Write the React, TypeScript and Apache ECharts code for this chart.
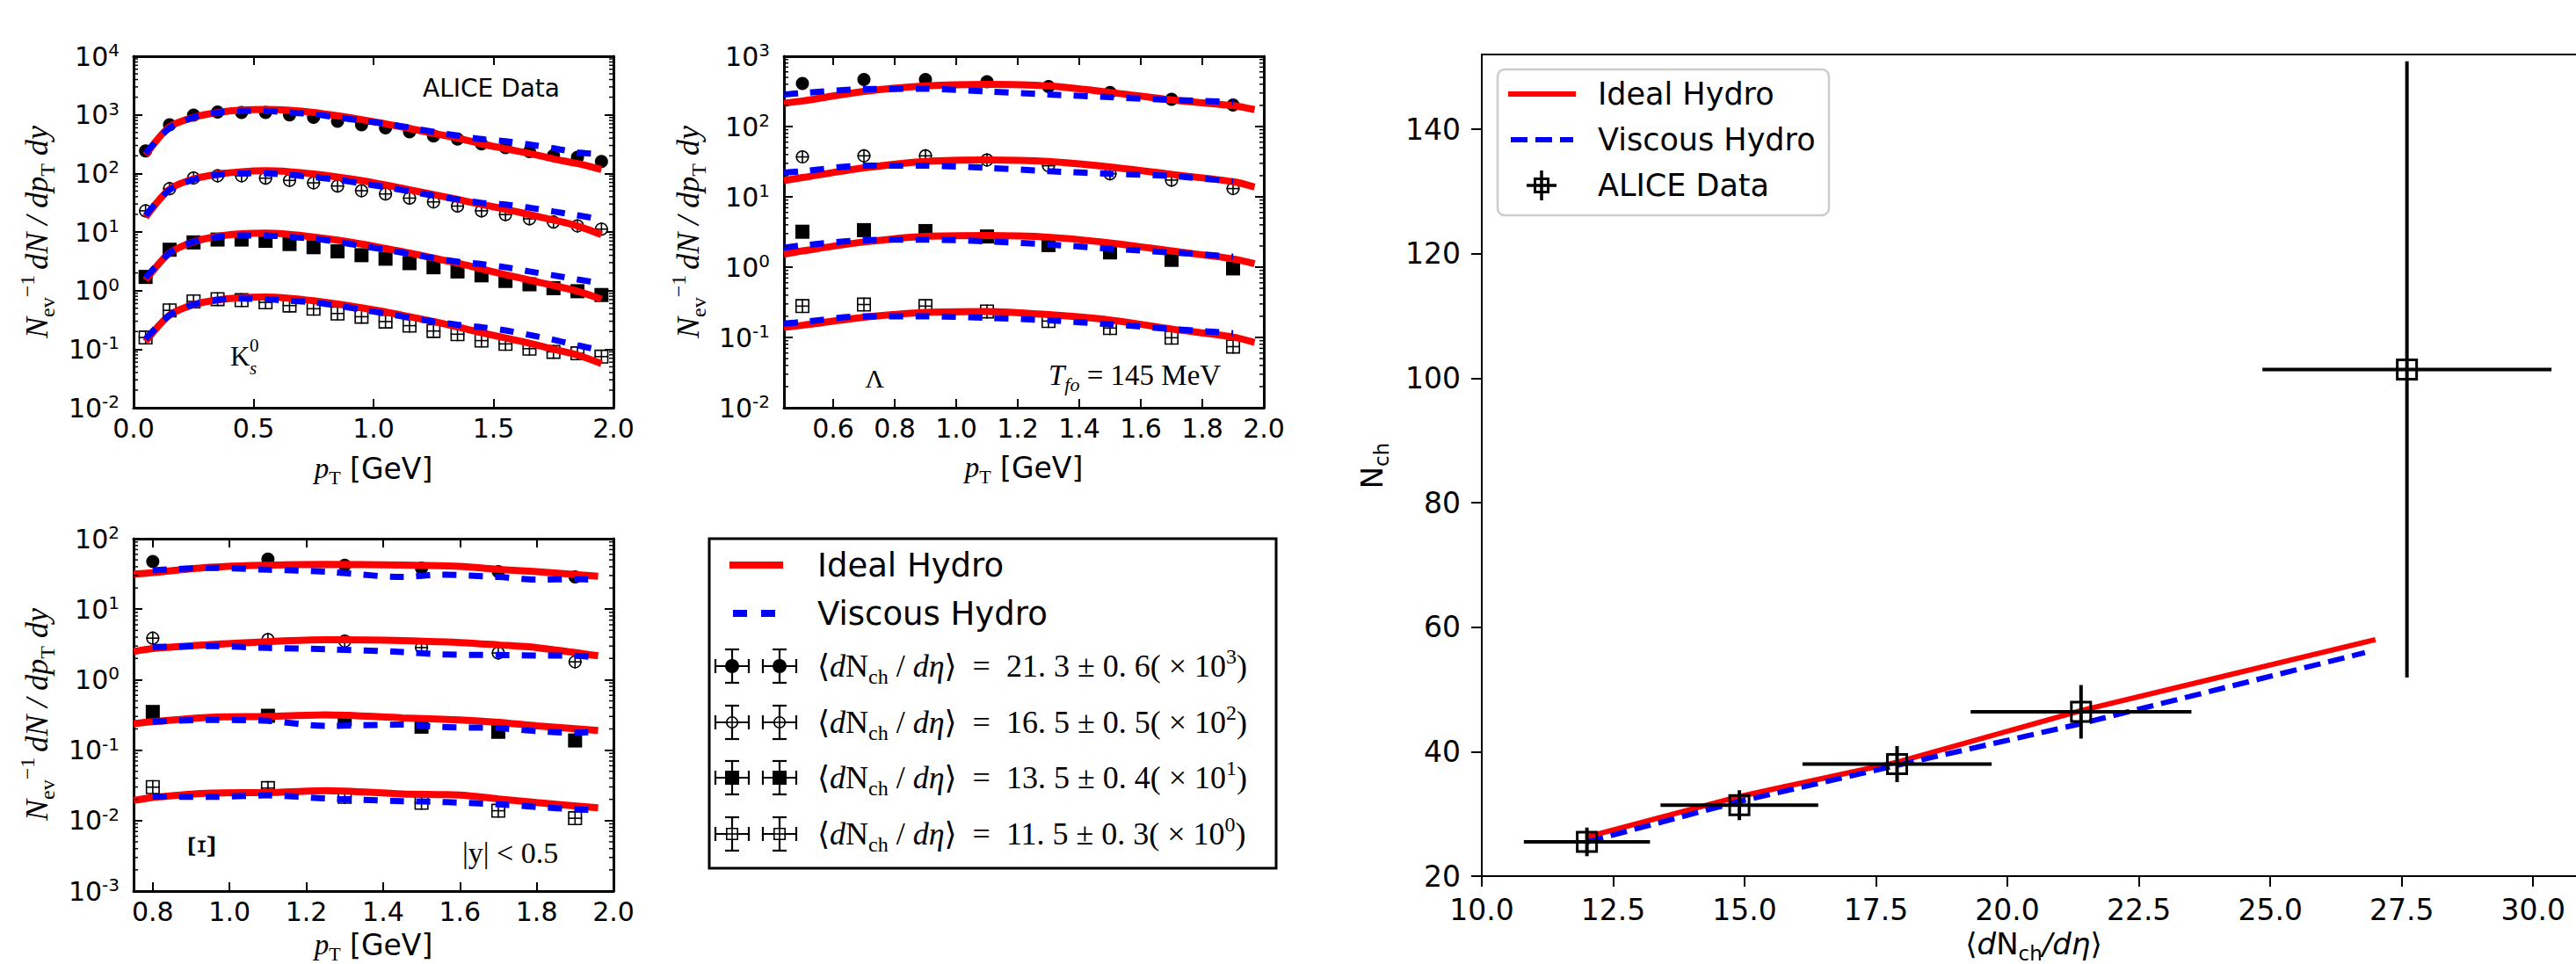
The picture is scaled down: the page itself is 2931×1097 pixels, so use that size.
import { useEffect, useRef } from 'react';
import * as echarts from 'echarts';

const W = 2931;
const H = 1097;
const SERIF = '"Liberation Serif", "DejaVu Serif", serif';
const SANS = '"DejaVu Sans", "Liberation Sans", sans-serif';
const RED = '#ff0000';
const BLUE = '#0000ff';

// ---------------- K0s panel (top left) ----------------
const kX = [0.05, 0.15, 0.25, 0.35, 0.45, 0.55, 0.65, 0.75, 0.85, 0.95, 1.05, 1.15, 1.25, 1.35, 1.45, 1.55, 1.65, 1.75, 1.85, 1.95];
const kD1 = [242, 677, 986, 1117, 1096, 1096, 1000, 904, 777, 677, 597, 514, 437, 385, 319, 275, 236, 201, 189, 160];
const kD2 = [23, 55, 83.5, 91, 91, 83, 76, 69, 61, 50.6, 44.6, 37.9, 32.6, 27.7, 23, 19.8, 16.8, 14.8, 12.7, 11.2];
const kD3 = [1.71, 4.98, 6.64, 7.43, 7.43, 7.07, 6.23, 5.5, 4.67, 4.02, 3.5, 2.94, 2.5, 2.12, 1.82, 1.46, 1.28, 1.1, 0.975, 0.84];
const kD4 = [0.158, 0.46, 0.653, 0.713, 0.687, 0.629, 0.555, 0.49, 0.406, 0.358, 0.296, 0.252, 0.204, 0.18, 0.14, 0.123, 0.102, 0.09, 0.085, 0.0747];
const kI1 = [206, 621, 904, 1096, 1203, 1233, 1191, 1096, 962, 827, 703, 583, 483, 400, 319, 264, 219, 177, 147, 117];
const kI2 = [17.9, 53.8, 80.4, 97, 107, 111, 107, 98, 86.7, 75.5, 63.4, 52.5, 43.5, 36, 29.5, 24.5, 19.8, 16, 12.7, 9.0];
const kI3 = [1.51, 4.39, 6.8, 8.42, 9.3, 9.55, 9.08, 8.22, 7.25, 6.23, 5.23, 4.39, 3.59, 2.94, 2.34, 1.87, 1.51, 1.22, 0.975, 0.713];
const kI4 = [0.135, 0.381, 0.576, 0.695, 0.759, 0.778, 0.74, 0.67, 0.59, 0.508, 0.432, 0.358, 0.296, 0.24, 0.191, 0.155, 0.126, 0.1, 0.0795, 0.0567];
const kV1 = [219, 597, 904, 1096, 1161, 1161, 1096, 1024, 904, 797, 703, 605, 514, 442, 385, 353, 311, 268, 228, 214];
const kV2 = [19.3, 52.5, 78, 94.6, 100, 100, 94.6, 86.7, 78, 67.5, 58.8, 49.3, 41.9, 36, 31.4, 29.5, 26, 22.4, 19.3, 16.4];
const kV3 = [1.65, 4.39, 6.8, 8.22, 8.74, 8.74, 8.22, 7.71, 6.8, 5.78, 4.98, 4.23, 3.59, 3.13, 2.83, 2.5, 2.12, 1.82, 1.55, 1.33];
const kV4 = [0.149, 0.381, 0.576, 0.695, 0.731, 0.713, 0.67, 0.629, 0.555, 0.471, 0.406, 0.344, 0.296, 0.262, 0.237, 0.209, 0.175, 0.145, 0.116, 0.096];

// ---------------- Lambda panel (top middle) ----------------
const lX = [0.5, 0.7, 0.9, 1.1, 1.3, 1.5, 1.7, 1.9];
const lD1 = [410, 466, 466, 433, 370, 306, 244, 202];
const lD2 = [37, 38.3, 38.3, 33.4, 27.7, 21.3, 17.3, 13.1];
const lD3 = [3.19, 3.36, 3.26, 2.73, 2.06, 1.62, 1.27, 0.96];
const lD4 = [0.279, 0.294, 0.279, 0.234, 0.171, 0.136, 0.099, 0.074];
const lIX = [0.44, 0.5, 0.7, 0.9, 1.1, 1.3, 1.5, 1.7, 1.9, 1.97];
const lI1 = [215, 231, 316, 378, 398, 378, 306, 239, 198, 174];
const lI2 = [17, 18.8, 25.8, 31.8, 33.4, 31.8, 26.6, 20.9, 16.4, 13.8];
const lI3 = [1.53, 1.7, 2.28, 2.73, 2.81, 2.67, 2.21, 1.7, 1.31, 1.12];
const lI4 = [0.139, 0.149, 0.194, 0.227, 0.234, 0.211, 0.177, 0.132, 0.101, 0.085];
const lVX = [0.44, 0.5, 0.7, 0.9, 1.1, 1.3, 1.5, 1.7, 1.9];
const lV1 = [285, 300, 340, 344, 316, 285, 262, 239, 224];
const lV2 = [22, 23.2, 27.7, 27.7, 25.8, 23.2, 21.3, 19.8, 16.6];
const lV3 = [1.89, 2.04, 2.41, 2.46, 2.33, 2.1, 1.83, 1.62, 1.41];
const lV4 = [0.157, 0.166, 0.2, 0.2, 0.19, 0.175, 0.154, 0.132, 0.115];

// ---------------- Xi panel (bottom left) ----------------
const xX = [0.8, 1.1, 1.3, 1.5, 1.7, 1.9];
const xD1 = [47.5, 51.4, 42, 38.1, 34, 28.6];
const xD2 = [3.88, 3.7, 3.52, 2.85, 2.39, 1.79];
const xD3 = [0.348, 0.307, 0.273, 0.215, 0.182, 0.137];
const xD4 = [0.0298, 0.0289, 0.0217, 0.0179, 0.0138, 0.0108];
const xIX = [0.75, 0.8, 0.95, 1.1, 1.25, 1.45, 1.6, 1.7, 1.8, 1.96];
const xI1 = [31.4, 33, 39.3, 42, 43.2, 42.4, 40.4, 36.7, 34, 29.4];
const xI2 = [2.51, 2.77, 3.14, 3.46, 3.67, 3.59, 3.36, 3.11, 2.85, 2.18];
const xI3 = [0.237, 0.253, 0.293, 0.3, 0.316, 0.287, 0.268, 0.248, 0.221, 0.19];
const xI4 = [0.0193, 0.0213, 0.0246, 0.025, 0.0266, 0.0239, 0.023, 0.0203, 0.018, 0.0152];
const xVX = [0.8, 0.95, 1.1, 1.25, 1.45, 1.55, 1.7, 1.8, 1.9, 1.96];
const xV1 = [35.6, 38.5, 36.3, 34, 28.6, 30.8, 28.6, 26.3, 26.7, 25.9];
const xV2 = [2.9, 2.99, 2.82, 2.7, 2.47, 2.28, 2.24, 2.2, 2.18, 2.07];
const xV3 = [0.253, 0.268, 0.26, 0.221, 0.23, 0.213, 0.205, 0.186, 0.177, 0.182];
const xV4 = [0.0219, 0.0217, 0.0228, 0.0206, 0.0189, 0.0184, 0.017, 0.0156, 0.0145, 0.014];

// ---------------- N_ch panel (right) ----------------
const aliceX = [12.0, 14.9, 17.9, 21.4, 27.6];
const aliceY = [25.5, 31.4, 38.0, 46.4, 101.4];
const aliceXErr = [1.2, 1.5, 1.8, 2.1, 2.75];
const aliceYErr = [2.3, 2.4, 2.9, 4.3, 49.5];
const idealNX = [12.0, 14.9, 17.9, 21.4, 27.0];
const idealNY = [26.3, 32.8, 38.3, 46.6, 58.0];
const viscNX = [12.0, 14.9, 17.9, 21.4, 26.8];
const viscNY = [25.5, 32.0, 37.8, 44.5, 55.9];

// legend texts
const legendVals = ['21. 3 ± 0. 6', '16. 5 ± 0. 5', '13. 5 ± 0. 4', '11. 5 ± 0. 3'];
const legendExps = ['3', '2', '1', '0'];
const markerTypes = ['fcircle', 'ocircle', 'fsquare', 'osquare'];

const panels = [
  {
    grid: { left: 152, top: 64, width: 546, height: 400 },
    xMin: 0, xMax: 2, xOpt: { interval: 0.5 }, showMinX: true,
    yMin: 1e-2, yMax: 1e4, decLo: -2, decHi: 4,
    dX: kX, d: [kD1, kD2, kD3, kD4],
    iX: kX, ideal: [kI1, kI2, kI3, kI4],
    vX: kX, visc: [kV1, kV2, kV3, kV4],
  },
  {
    grid: { left: 892, top: 64, width: 546, height: 400 },
    xMin: 0.44, xMax: 2, xOpt: { splitNumber: 8 }, showMinX: false,
    yMin: 1e-2, yMax: 1e3, decLo: -2, decHi: 3,
    dX: lX, d: [lD1, lD2, lD3, lD4],
    iX: lIX, ideal: [lI1, lI2, lI3, lI4],
    vX: lVX, visc: [lV1, lV2, lV3, lV4],
  },
  {
    grid: { left: 152, top: 613, width: 546, height: 401 },
    xMin: 0.75, xMax: 2, xOpt: { splitNumber: 6 }, showMinX: false,
    yMin: 1e-3, yMax: 1e2, decLo: -3, decHi: 2,
    dX: xX, d: [xD1, xD2, xD3, xD4],
    iX: xIX, ideal: [xI1, xI2, xI3, xI4],
    vX: xVX, visc: [xV1, xV2, xV3, xV4],
  },
];

function markerParts(type: string, cx: number, cy: number, r: number): any[] {
  const lw = 1.6;
  const cross = [
    { type: 'line', shape: { x1: cx - r, y1: cy, x2: cx + r, y2: cy }, style: { stroke: '#000', lineWidth: lw } },
    { type: 'line', shape: { x1: cx, y1: cy - r, x2: cx, y2: cy + r }, style: { stroke: '#000', lineWidth: lw } },
  ];
  if (type === 'fcircle') return [{ type: 'circle', shape: { cx, cy, r }, style: { fill: '#000' } }];
  if (type === 'ocircle')
    return [{ type: 'circle', shape: { cx, cy, r: r - 0.8 }, style: { fill: '#fff', stroke: '#000', lineWidth: lw } }, ...cross];
  if (type === 'fsquare') return [{ type: 'rect', shape: { x: cx - r, y: cy - r, width: 2 * r, height: 2 * r }, style: { fill: '#000' } }];
  return [{ type: 'rect', shape: { x: cx - r + 0.8, y: cy - r + 0.8, width: 2 * r - 1.6, height: 2 * r - 1.6 }, style: { fill: '#fff', stroke: '#000', lineWidth: lw } }, ...cross];
}

function legendErrParts(type: string, cx: number, cy: number): any[] {
  const e = 19, cap = 8, lw = 2.2;
  const s = { stroke: '#000', lineWidth: lw };
  return [
    { type: 'line', shape: { x1: cx - e, y1: cy, x2: cx + e, y2: cy }, style: s },
    { type: 'line', shape: { x1: cx, y1: cy - e, x2: cx, y2: cy + e }, style: s },
    { type: 'line', shape: { x1: cx - e, y1: cy - cap, x2: cx - e, y2: cy + cap }, style: s },
    { type: 'line', shape: { x1: cx + e, y1: cy - cap, x2: cx + e, y2: cy + cap }, style: s },
    { type: 'line', shape: { x1: cx - cap, y1: cy - e, x2: cx + cap, y2: cy - e }, style: s },
    { type: 'line', shape: { x1: cx - cap, y1: cy + e, x2: cx + cap, y2: cy + e }, style: s },
    ...markerParts(type, cx, cy, type === 'ocircle' || type === 'osquare' ? 7 : 8),
  ];
}

const logRich = {
  b: { fontSize: 30, fontFamily: SANS, color: '#000', lineHeight: 34 },
  s: { fontSize: 20, fontFamily: SANS, color: '#000', lineHeight: 20, verticalAlign: 'top' },
};
function logLabel(v: number) {
  const e = Math.round(Math.log10(v));
  return `{b|10}{s|${e}}`;
}

function mathRich(size: number, family = SERIF) {
  const s2 = Math.round(size * 0.68);
  return {
    i: { fontFamily: family, fontStyle: 'italic', fontSize: size, lineHeight: Math.round(size * 1.3) },
    r: { fontFamily: family, fontSize: size, lineHeight: Math.round(size * 1.3) },
    g: { fontFamily: SANS, fontSize: size, lineHeight: Math.round(size * 1.3) },
    sub: { fontFamily: family, fontSize: s2, lineHeight: s2, verticalAlign: 'bottom' },
    subi: { fontFamily: family, fontStyle: 'italic', fontSize: s2, lineHeight: s2, verticalAlign: 'bottom' },
    sup: { fontFamily: family, fontSize: s2, lineHeight: s2, verticalAlign: 'top' },
  };
}

function T(x: number, y: number, text: string, style: any, extra: any = {}): any {
  return { type: 'text', x, y, z: 100, style: { text, fill: '#000', align: 'left', verticalAlign: 'middle', ...style }, ...extra };
}

function curve(xs: number[], ys: number[], ax: number, color: string, dash: any, width: number, z: number, smooth: any = 0.3): any {
  return {
    type: 'line', xAxisIndex: ax, yAxisIndex: ax, data: xs.map((x, i) => [x, ys[i]]),
    showSymbol: false, symbol: 'none', smooth, z, silent: true, clip: true,
    lineStyle: { color, width, type: dash, cap: 'butt' },
  };
}

function buildOption(): any {
  const grids: any[] = [];
  const xAxes: any[] = [];
  const yAxes: any[] = [];
  const series: any[] = [];
  const frameLine = { show: true, onZero: false, lineStyle: { color: '#000', width: 3 } };
  const inTick = { show: true, inside: true, length: 10, lineStyle: { color: '#000', width: 2 } };

  panels.forEach((p, i) => {
    grids.push({ ...p.grid, show: false, containLabel: false, outerBoundsMode: 'none' });
    const ax = 2 * i;
    const xBase = { type: 'value', gridIndex: i, min: p.xMin, max: p.xMax, ...p.xOpt, splitLine: { show: false }, axisLine: frameLine, axisTick: inTick };
    xAxes.push({
      ...xBase, position: 'bottom',
      axisLabel: { show: true, margin: 8, fontSize: 30, fontFamily: SANS, color: '#000', formatter: (v: number) => v.toFixed(1), showMinLabel: p.showMinX, showMaxLabel: true },
    });
    xAxes.push({ ...xBase, position: 'top', axisLabel: { show: false } });
    const yBase = { type: 'log', logBase: 10, gridIndex: i, min: p.yMin, max: p.yMax, splitNumber: 10, splitLine: { show: false }, axisLine: frameLine, axisTick: inTick };
    yAxes.push({ ...yBase, position: 'left', axisLabel: { show: true, margin: 16, formatter: logLabel, rich: logRich, showMinLabel: true, showMaxLabel: true } });
    yAxes.push({ ...yBase, position: 'right', axisLabel: { show: false } });

    p.d.forEach((ys, k) => {
      series.push({
        type: 'custom', xAxisIndex: ax, yAxisIndex: ax, z: 2, silent: true,
        data: p.dX.map((x, j) => [x, ys[j]]),
        renderItem: (_params: any, api: any) => {
          const c = api.coord([api.value(0), api.value(1)]);
          return { type: 'group', children: markerParts(markerTypes[k], c[0], c[1], markerTypes[k].endsWith('square') ? 8 : 7.5) };
        },
      });
    });
    p.ideal.forEach((ys) => series.push(curve(p.iX, ys, ax, RED, 'solid', 8, 3)));
    p.visc.forEach((ys) => series.push(curve(p.vX, ys, ax, BLUE, [16, 14], 7, 4)));

    const minor: number[][] = [];
    for (let d = p.decLo; d < p.decHi; d++) for (let m = 2; m <= 9; m++) minor.push([p.xMin, m * Math.pow(10, d)]);
    series.push({
      type: 'custom', xAxisIndex: ax, yAxisIndex: ax, z: 5, silent: true, data: minor,
      renderItem: (params: any, api: any) => {
        const cs = params.coordSys;
        const y = api.coord([api.value(0), api.value(1)])[1];
        const st = { stroke: '#000', lineWidth: 1.5 };
        return {
          type: 'group',
          children: [
            { type: 'line', shape: { x1: cs.x, y1: y, x2: cs.x + 5, y2: y }, style: st },
            { type: 'line', shape: { x1: cs.x + cs.width - 5, y1: y, x2: cs.x + cs.width, y2: y }, style: st },
          ],
        };
      },
    });
  });

  // right panel
  grids.push({ left: 1686, top: 62, width: 1256, height: 935, show: true, borderColor: '#000', borderWidth: 2, backgroundColor: 'transparent', containLabel: false, outerBoundsMode: 'none' });
  const rLine = { show: true, onZero: false, lineStyle: { color: '#000', width: 2 } };
  const rTick = { show: true, inside: false, length: 12, lineStyle: { color: '#000', width: 2 } };
  xAxes.push({
    type: 'value', gridIndex: 3, min: 10, max: 31, interval: 2.5, position: 'bottom', splitLine: { show: false }, axisLine: rLine, axisTick: rTick,
    axisLabel: { margin: 22, fontSize: 33, fontFamily: SANS, color: '#000', formatter: (v: number) => v.toFixed(1), showMinLabel: true, showMaxLabel: false },
  });
  yAxes.push({
    type: 'value', gridIndex: 3, min: 20, max: 152, interval: 20, position: 'left', splitLine: { show: false }, axisLine: rLine, axisTick: rTick,
    axisLabel: { margin: 24, fontSize: 33, fontFamily: SANS, color: '#000', formatter: (v: number) => String(Math.round(v)), showMinLabel: true, showMaxLabel: false },
  });
  series.push(curve(idealNX, idealNY, 6, RED, 'solid', 6, 3, false));
  series.push(curve(viscNX, viscNY, 6, BLUE, [19, 9], 6, 4, false));
  series.push({
    type: 'custom', xAxisIndex: 6, yAxisIndex: 6, z: 5, silent: true,
    data: aliceX.map((x, i) => [x, aliceY[i], aliceXErr[i], aliceYErr[i]]),
    encode: { x: 0, y: 1 },
    renderItem: (_params: any, api: any) => {
      const x = api.value(0), y = api.value(1), ex = api.value(2), ey = api.value(3);
      const c = api.coord([x, y]);
      const l = api.coord([x - ex, y]);
      const r = api.coord([x + ex, y]);
      const t = api.coord([x, y + ey]);
      const b = api.coord([x, y - ey]);
      const st = { stroke: '#000', lineWidth: 4 };
      return {
        type: 'group',
        children: [
          { type: 'line', shape: { x1: l[0], y1: l[1], x2: r[0], y2: r[1] }, style: st },
          { type: 'line', shape: { x1: t[0], y1: t[1], x2: b[0], y2: b[1] }, style: st },
          { type: 'rect', shape: { x: c[0] - 11, y: c[1] - 11, width: 22, height: 22 }, style: { fill: 'none', stroke: '#000', lineWidth: 3 } },
        ],
      };
    },
  });

  // ---------- graphic: labels, annotations, legends ----------
  const g: any[] = [];
  const addParts = (parts: any[]) => parts.forEach((e) => g.push({ ...e, z: 100 }));
  const yLab = '{i|N}{sub|ev}{sup|−1 }{i|dN / dp}{sub|T}{i| dy}';
  const yRich = mathRich(36);
  [[42, 264], [783, 264], [42, 813]].forEach(([x, y]) =>
    g.push(T(x, y, yLab, { rich: yRich, align: 'center' }, { rotation: Math.PI / 2 })));
  const ptLab = '{i|p}{sub|T}{g| [GeV]}';
  const ptRich = mathRich(33);
  [[425, 533], [1165, 532], [425, 1075]].forEach(([x, y]) => g.push(T(x, y, ptLab, { rich: ptRich, align: 'center' })));

  g.push(T(481, 100, 'ALICE Data', { fontSize: 28, fontFamily: SANS }));
  g.push(T(262, 405, 'K', { fontSize: 31, fontFamily: SERIF }));
  g.push(T(284, 393, '0', { fontSize: 21, fontFamily: SERIF }));
  g.push(T(284, 419, 's', { fontSize: 21, fontFamily: SERIF, fontStyle: 'italic' }));
  g.push(T(995, 430, 'Λ', { fontSize: 30, fontFamily: SERIF, align: 'center' }));
  g.push(T(1193, 427, '{i|T}{subi|fo}{r| = 145 MeV}', { rich: mathRich(33) }));
  g.push(T(229, 963, 'Ξ', { fontSize: 44, fontFamily: SERIF, align: 'center' }, { rotation: Math.PI / 2 }));
  g.push(T(526, 970, '{r||y| < 0.5}', { rich: mathRich(34) }));

  // bottom-middle legend
  g.push({ type: 'rect', z: 90, shape: { x: 807, y: 613, width: 645, height: 375 }, style: { fill: '#fff', stroke: '#000', lineWidth: 3 } });
  g.push({ type: 'line', z: 100, shape: { x1: 830, y1: 643, x2: 891, y2: 643 }, style: { stroke: RED, lineWidth: 8 } });
  g.push(T(930, 643, 'Ideal Hydro', { fontSize: 37, fontFamily: SANS }));
  g.push({ type: 'line', z: 100, shape: { x1: 834, y1: 698, x2: 882, y2: 698 }, style: { stroke: BLUE, lineWidth: 8, lineDash: [16, 16] } });
  g.push(T(930, 698, 'Viscous Hydro', { fontSize: 37, fontFamily: SANS }));
  const rowsY = [758, 822, 885, 949];
  const legRich = mathRich(36);
  rowsY.forEach((y, k) => {
    addParts(legendErrParts(markerTypes[k], 833, y));
    addParts(legendErrParts(markerTypes[k], 887, y));
    g.push(T(930, y, `{r|⟨}{i|d}{r|N}{sub|ch}{r| / }{i|dη}{r|⟩  =  ${legendVals[k]}( × 10}{sup|${legendExps[k]}}{r|)}`, { rich: legRich }));
  });

  // right panel labels
  g.push(T(1561, 530, '{g|N}{sub|ch}', { rich: mathRich(34, SANS), align: 'center' }, { rotation: Math.PI / 2 }));
  g.push(T(2314, 1074, '{g|⟨}{i|d}{g|N}{sub|ch}{i|/dη}{g|⟩}', { rich: mathRich(34, SANS), align: 'center' }));

  // right legend
  g.push({ type: 'rect', z: 90, shape: { x: 1704, y: 79, width: 377, height: 166, r: 8 }, style: { fill: 'rgba(255,255,255,0.85)', stroke: '#cccccc', lineWidth: 2.5 } });
  g.push({ type: 'line', z: 100, shape: { x1: 1716, y1: 107, x2: 1793, y2: 107 }, style: { stroke: RED, lineWidth: 6 } });
  g.push(T(1818, 107, 'Ideal Hydro', { fontSize: 35, fontFamily: SANS }));
  g.push({ type: 'line', z: 100, shape: { x1: 1719, y1: 159, x2: 1790, y2: 159 }, style: { stroke: BLUE, lineWidth: 6, lineDash: [19, 9] } });
  g.push(T(1818, 159, 'Viscous Hydro', { fontSize: 35, fontFamily: SANS }));
  const mst = { stroke: '#000', lineWidth: 3.5 };
  addParts([
    { type: 'line', shape: { x1: 1737, y1: 211, x2: 1771, y2: 211 }, style: mst },
    { type: 'line', shape: { x1: 1754, y1: 194, x2: 1754, y2: 228 }, style: mst },
    { type: 'rect', shape: { x: 1746.5, y: 203.5, width: 15, height: 15 }, style: { fill: 'none', stroke: '#000', lineWidth: 3 } },
  ]);
  g.push(T(1818, 211, 'ALICE Data', { fontSize: 35, fontFamily: SANS }));

  return {
    animation: false,
    backgroundColor: '#ffffff',
    grid: grids,
    xAxis: xAxes,
    yAxis: yAxes,
    series,
    graphic: g,
  };
}

export default function App() {
  const ref = useRef<HTMLDivElement>(null);
  useEffect(() => {
    document.body.style.margin = '0';
    const chart = echarts.init(ref.current!, null, { renderer: 'svg', width: W, height: H });
    chart.setOption(buildOption());
    return () => chart.dispose();
  }, []);
  return <div ref={ref} style={{ position: 'absolute', left: 0, top: 0, width: W, height: H }} />;
}
